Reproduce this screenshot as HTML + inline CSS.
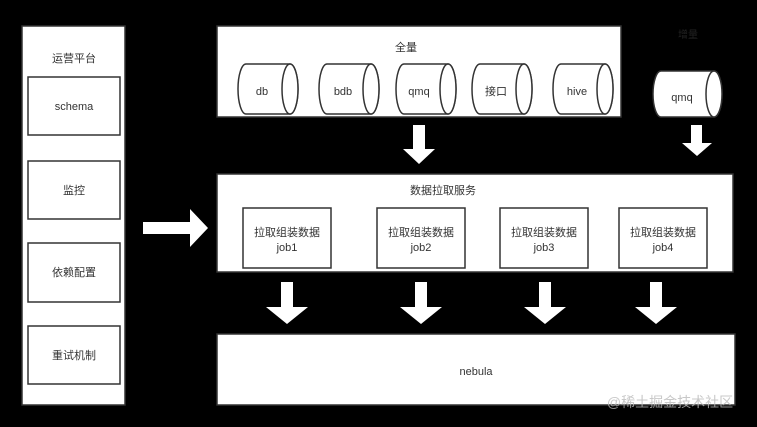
<!DOCTYPE html>
<html><head><meta charset="utf-8"><style>
html,body{margin:0;padding:0;background:#000;}
svg{display:block}
text{font-family:"Liberation Sans","Noto Sans CJK SC",sans-serif;font-size:11px;fill:#333;text-anchor:middle;}
</style></head><body>
<svg width="757" height="427" viewBox="0 0 757 427" xmlns="http://www.w3.org/2000/svg">
<rect width="757" height="427" fill="#000"/>
<g stroke="#333" stroke-width="1.5" fill="#fff">
<rect x="22" y="26" width="103" height="379"/>
<rect x="28" y="77" width="92" height="58"/>
<rect x="28" y="161" width="92" height="58"/>
<rect x="28" y="243" width="92" height="59"/>
<rect x="28" y="326" width="92" height="58"/>
<rect x="217" y="26" width="404" height="91"/>
<rect x="217" y="174" width="516" height="98"/>
<rect x="243" y="208" width="88" height="60"/>
<rect x="377" y="208" width="88" height="60"/>
<rect x="500" y="208" width="88" height="60"/>
<rect x="619" y="208" width="88" height="60"/>
<rect x="217" y="334" width="518" height="71"/>
</g>
<g stroke="#333" stroke-width="1.5" fill="#fff">
<path d="M246,64 L290,64 A8,25 0 0 1 290,114 L246,114 A8,25 0 0 1 246,64 Z"/><ellipse cx="290" cy="89" rx="8" ry="25"/>
<path d="M327,64 L371,64 A8,25 0 0 1 371,114 L327,114 A8,25 0 0 1 327,64 Z"/><ellipse cx="371" cy="89" rx="8" ry="25"/>
<path d="M404,64 L448,64 A8,25 0 0 1 448,114 L404,114 A8,25 0 0 1 404,64 Z"/><ellipse cx="448" cy="89" rx="8" ry="25"/>
<path d="M480,64 L524,64 A8,25 0 0 1 524,114 L480,114 A8,25 0 0 1 480,64 Z"/><ellipse cx="524" cy="89" rx="8" ry="25"/>
<path d="M561,64 L605,64 A8,25 0 0 1 605,114 L561,114 A8,25 0 0 1 561,64 Z"/><ellipse cx="605" cy="89" rx="8" ry="25"/>
<path d="M661,71 L714,71 A8,23 0 0 1 714,117 L661,117 A8,23 0 0 1 661,71 Z"/><ellipse cx="714" cy="94" rx="8" ry="23"/>
</g>
<g fill="#fff">
<path d="M413,125 h12 v24 h10 l-16,15 l-16,-15 h10 z"/>
<path d="M691,125 h11 v18 h10 l-15,13 l-15,-13 h9 z"/>
<path d="M143,222 h47 v-13 l18,19 l-18,19 v-13 h-47 z"/>
<path d="M281,282 h12 v25 h15 l-21,17 l-21,-17 h15 z"/>
<path d="M415,282 h12 v25 h15 l-21,17 l-21,-17 h15 z"/>
<path d="M539,282 h12 v25 h15 l-21,17 l-21,-17 h15 z"/>
<path d="M650,282 h12 v25 h15 l-21,17 l-21,-17 h15 z"/>
</g>
<text x="74" y="62">运营平台</text>
<text x="74" y="110">schema</text>
<text x="74" y="194">监控</text>
<text x="74" y="276">依赖配置</text>
<text x="74" y="359">重试机制</text>
<text x="406" y="51">全量</text>
<text x="262" y="95">db</text>
<text x="343" y="95">bdb</text>
<text x="419" y="95">qmq</text>
<text x="496" y="95">接口</text>
<text x="577" y="95">hive</text>
<text x="688" y="38" style="fill:#222;font-size:10px">增量</text>
<text x="682" y="101">qmq</text>
<text x="443" y="194">数据拉取服务</text>
<text x="287" y="236">拉取组装数据</text><text x="287" y="251">job1</text>
<text x="421" y="236">拉取组装数据</text><text x="421" y="251">job2</text>
<text x="544" y="236">拉取组装数据</text><text x="544" y="251">job3</text>
<text x="663" y="236">拉取组装数据</text><text x="663" y="251">job4</text>
<text x="476" y="375">nebula</text>
<text x="670" y="407" style="fill:#bbb;font-size:14px;opacity:0.8">@稀土掘金技术社区</text>
</svg>
</body></html>
